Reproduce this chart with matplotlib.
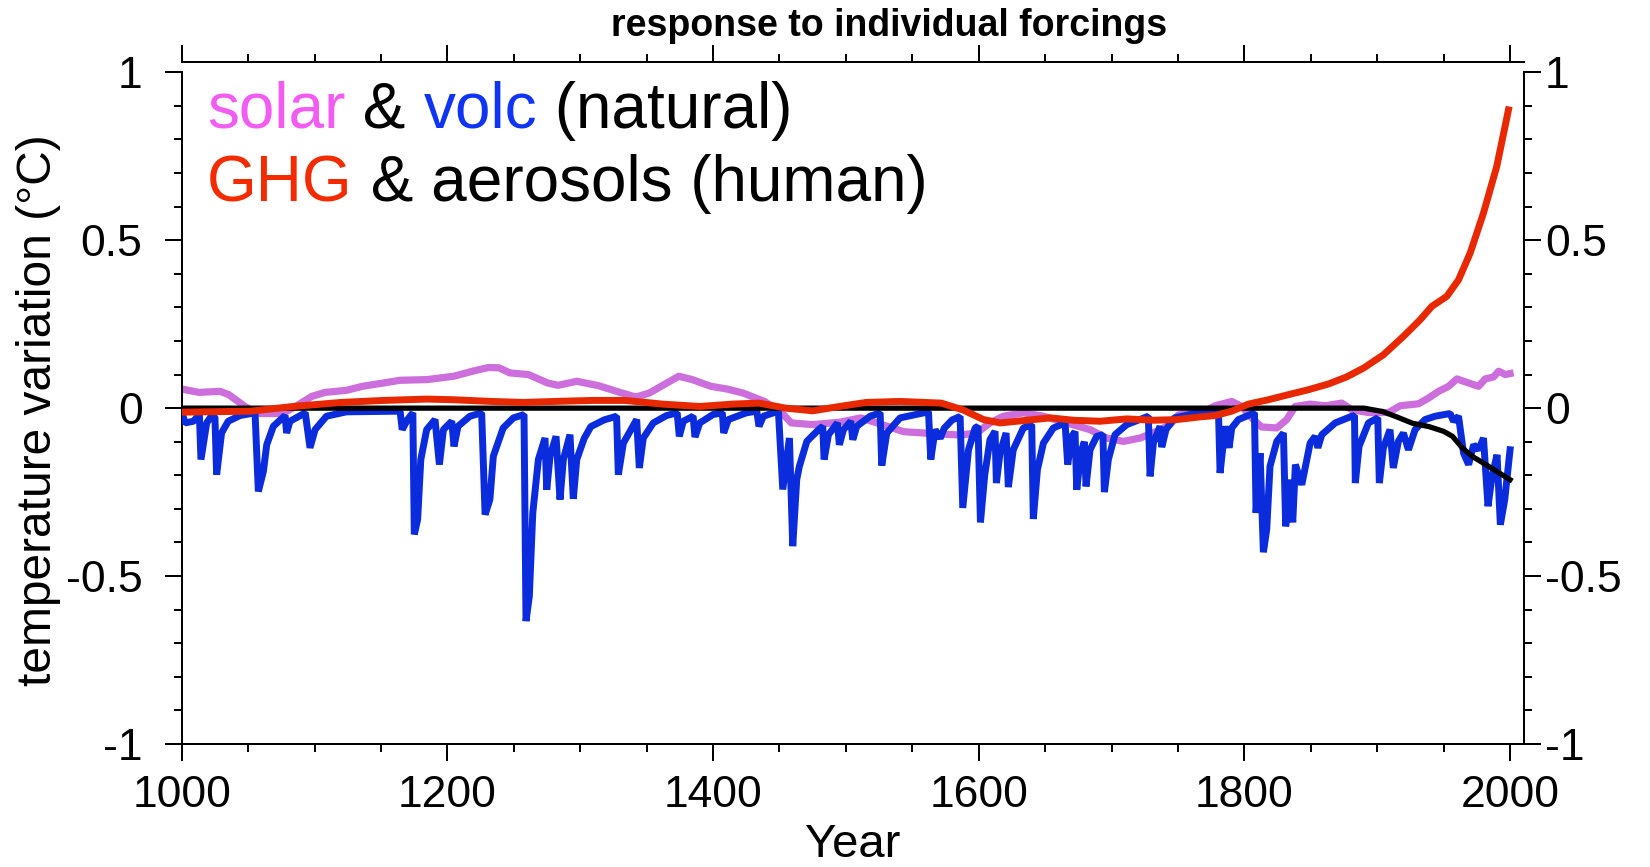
import matplotlib
matplotlib.use('Agg')
import matplotlib.pyplot as plt
from matplotlib.ticker import MultipleLocator

plt.rcParams['font.family'] = ['Liberation Sans', 'DejaVu Sans']
plt.rcParams['axes.unicode_minus'] = False

# ---------------- data ----------------
title = "response to individual forcings"
xlabel = "Year"
ylabel = "temperature variation (°C)"

x_ticks = [1000, 1200, 1400, 1600, 1800, 2000]
x_ticklabels = ["1000", "1200", "1400", "1600", "1800", "2000"]
y_ticks = [-1, -0.5, 0, 0.5, 1]
y_ticklabels = ["-1", "-0.5", "0", "0.5", "1"]

volc_years = [1000, 1002.5, 1008.8, 1013.3, 1014.5, 1018.8, 1022.6, 1025, 1026.3, 1030,
              1035, 1043.9, 1055.2, 1057.7, 1061.5, 1064, 1069, 1077.8, 1079, 1081.5,
              1093, 1096.6, 1100.4, 1109, 1124, 1164.4, 1166, 1170, 1174, 1175.1,
              1177.6, 1180, 1184.4, 1190.7, 1194, 1197, 1203.3, 1205, 1208, 1217,
              1225.8, 1228.4, 1232, 1234.6, 1242, 1249.7, 1257.7, 1259.2, 1261.7, 1264.3,
              1268.5, 1273.5, 1274.8, 1277.3, 1281.8, 1284.8, 1287.3, 1292.3, 1294.8, 1297.4,
              1303, 1308, 1318, 1327.4, 1328.7, 1332.5, 1342.5, 1344.5, 1347.5, 1355,
              1365, 1373, 1374.6, 1377.6, 1385, 1386.4, 1390, 1400, 1407, 1408,
              1411.5, 1425, 1432.9, 1434.6, 1437.9, 1449.2, 1452.5, 1457.5, 1460, 1463,
              1465, 1470.6, 1479.4, 1482.6, 1483.6, 1486.9, 1493.6, 1495.1, 1498.2, 1503.7,
              1505.2, 1508.2, 1518.3, 1525.8, 1527, 1530.8, 1540.8, 1562.2, 1563.9, 1567.2,
              1571, 1574, 1580, 1586, 1588, 1592.3, 1597.3, 1599.5, 1601.3, 1604.5,
              1608.5, 1612.3, 1613.3, 1616, 1620.6, 1622.3, 1626, 1633.6, 1639.9, 1641.1,
              1644.2, 1648.7, 1656.2, 1665, 1667, 1670, 1672.5, 1673.8, 1676.8, 1679.5,
              1680.8, 1683.8, 1688.8, 1693.5, 1694.6, 1697.6, 1702.6, 1711.4, 1727.7, 1729,
              1731.5, 1736.5, 1737.8, 1741, 1747.3, 1764.9, 1780.5, 1781.7, 1785.5, 1788.5,
              1790.5, 1795.5, 1807.6, 1808.8, 1811.8, 1814.3, 1816.8, 1819.3, 1824.4, 1829.4,
              1831.1, 1834.4, 1836.4, 1838.4, 1843.2, 1849.5, 1853.3, 1855.3, 1858.3, 1868.4,
              1880.9, 1882.9, 1883.5, 1886.3, 1893.4, 1900.4, 1901.6, 1904.6, 1909.6, 1912.1,
              1915.9, 1919.7, 1923.5, 1928.5, 1936, 1943.6, 1954.9, 1957.4, 1961.2, 1965,
              1968.8, 1972.6, 1976.3, 1980, 1983.4, 1986.4, 1990.2, 1992.7, 1996, 2000]
volc_vals = [-0.010, -0.044, -0.039, -0.019, -0.153, -0.044, -0.022, -0.026, -0.198, -0.074,
             -0.039, -0.022, -0.014, -0.248, -0.188, -0.109, -0.054, -0.022, -0.074, -0.039,
             -0.014, -0.118, -0.064, -0.024, -0.011, -0.009, -0.064, -0.034, -0.014, -0.376,
             -0.332, -0.153, -0.064, -0.034, -0.168, -0.064, -0.039, -0.114, -0.054, -0.024,
             -0.014, -0.317, -0.272, -0.143, -0.059, -0.029, -0.019, -0.634, -0.560, -0.312,
             -0.153, -0.089, -0.243, -0.143, -0.084, -0.272, -0.153, -0.079, -0.270, -0.153,
             -0.090, -0.055, -0.035, -0.024, -0.198, -0.104, -0.034, -0.178, -0.089, -0.044,
             -0.022, -0.014, -0.084, -0.039, -0.024, -0.086, -0.044, -0.019, -0.014, -0.074,
             -0.034, -0.014, -0.009, -0.054, -0.024, -0.009, -0.242, -0.089, -0.411, -0.213,
             -0.173, -0.099, -0.064, -0.054, -0.153, -0.079, -0.044, -0.109, -0.064, -0.039,
             -0.094, -0.054, -0.024, -0.014, -0.171, -0.074, -0.029, -0.011, -0.153, -0.064,
             -0.090, -0.060, -0.035, -0.025, -0.297, -0.124, -0.059, -0.054, -0.340, -0.200,
             -0.094, -0.069, -0.223, -0.134, -0.074, -0.235, -0.124, -0.059, -0.049, -0.330,
             -0.183, -0.104, -0.059, -0.044, -0.168, -0.084, -0.070, -0.243, -0.134, -0.100,
             -0.233, -0.124, -0.084, -0.079, -0.250, -0.153, -0.079, -0.049, -0.024, -0.203,
             -0.104, -0.054, -0.116, -0.064, -0.029, -0.014, -0.010, -0.193, -0.054, -0.118,
             -0.059, -0.034, -0.014, -0.312, -0.134, -0.429, -0.362, -0.173, -0.099, -0.074,
             -0.352, -0.213, -0.340, -0.168, -0.228, -0.104, -0.084, -0.118, -0.079, -0.044,
             -0.024, -0.022, -0.223, -0.114, -0.044, -0.029, -0.223, -0.119, -0.064, -0.178,
             -0.099, -0.074, -0.124, -0.064, -0.034, -0.024, -0.016, -0.039, -0.024, -0.134,
             -0.168, -0.109, -0.124, -0.089, -0.292, -0.203, -0.139, -0.347, -0.272, -0.124]

solar_years = [1000, 1013, 1029, 1035.5, 1047.6, 1057.6, 1075.8, 1085.8, 1097.9, 1108,
               1124, 1136, 1152, 1164.5, 1184.6, 1204.8, 1220.9, 1231, 1239, 1247,
               1261, 1275.4, 1283.4, 1297.5, 1313.7, 1329.8, 1341.9, 1352, 1374.2, 1384.3,
               1398.4, 1410.5, 1422.6, 1438.7, 1450.8, 1458.9, 1475, 1495.2, 1511.3, 1523.4,
               1543.5, 1565.9, 1586, 1598.5, 1608.5, 1618.6, 1633.6, 1648.7, 1666.3, 1683.8,
               1696.4, 1708.9, 1721.5, 1734, 1744.1, 1750.4, 1761.7, 1771.7, 1778, 1790.5,
               1798, 1806.7, 1813, 1824.4, 1831.9, 1838.2, 1849.5, 1860.8, 1873.3, 1880.9,
               1893.4, 1908.5, 1917.3, 1931.1, 1938.6, 1946.2, 1953.7, 1960, 1968.8, 1976.3,
               1981.3, 1987.6, 1991.4, 1996.4, 2000]
solar_vals = [0.057, 0.047, 0.050, 0.040, 0.005, -0.016, -0.016, 0.005, 0.035, 0.047,
              0.053, 0.065, 0.075, 0.083, 0.085, 0.095, 0.112, 0.121, 0.120, 0.105,
              0.100, 0.075, 0.068, 0.080, 0.067, 0.047, 0.033, 0.045, 0.095, 0.085,
              0.065, 0.057, 0.045, 0.020, -0.010, -0.044, -0.049, -0.042, -0.029, -0.044,
              -0.070, -0.076, -0.080, -0.074, -0.044, -0.024, -0.014, -0.024, -0.044, -0.064,
              -0.089, -0.099, -0.089, -0.069, -0.049, -0.020, -0.014, -0.006, 0.007, 0.020,
              0.005, -0.034, -0.056, -0.059, -0.034, 0.005, 0.012, 0.007, 0.015, -0.005,
              -0.013, -0.013, 0.007, 0.013, 0.030, 0.050, 0.065, 0.087, 0.075, 0.065,
              0.087, 0.093, 0.110, 0.100, 0.103]

ghg_years = [1000, 1052, 1084, 1120, 1152, 1184.6, 1204.8, 1233, 1257, 1281,
             1309.5, 1333.7, 1362, 1390, 1414.5, 1434.6, 1454.8, 1475, 1495.2, 1515.3,
             1540.8, 1571.8, 1588, 1603.6, 1616.1, 1636.2, 1653.8, 1671.3, 1691.4, 1711.4,
             1731.5, 1749.1, 1766.7, 1778, 1790.5, 1803, 1818, 1833, 1848.3, 1863.3,
             1877, 1890, 1904.7, 1919.8, 1932.3, 1941.1, 1952.4, 1961.2, 1970, 1980,
             1990, 1998.8]
ghg_vals = [-0.012, -0.009, 0.005, 0.017, 0.023, 0.027, 0.025, 0.020, 0.017, 0.020,
            0.023, 0.023, 0.012, 0.005, 0.012, 0.015, 0.000, -0.008, 0.005, 0.017,
            0.020, 0.015, -0.005, -0.034, -0.044, -0.036, -0.029, -0.036, -0.039, -0.032,
            -0.036, -0.034, -0.026, -0.022, -0.009, 0.012, 0.025, 0.040, 0.055, 0.072,
            0.093, 0.120, 0.159, 0.214, 0.263, 0.303, 0.333, 0.382, 0.462, 0.581,
            0.720, 0.888]

aer_years = [1000, 1890, 1904, 1914, 1926.6, 1939, 1950, 1956.7, 1964.2, 1971.7,
             1981.8, 1991.8, 2000]
aer_vals = [0.0, 0.0, -0.010, -0.025, -0.045, -0.055, -0.069, -0.084, -0.119, -0.144,
            -0.168, -0.193, -0.213]

legend_line1 = [("solar", "#F25CF2"), (" & ", "black"), ("volc", "#1034F4"), (" (natural)", "black")]
legend_line2 = [("GHG", "#F42A00"), (" & aerosols (human)", "black")]

# ---------------- figure ----------------
W, H = 1650, 867
fig = plt.figure(figsize=(W / 100, H / 100), dpi=100)
L, R, B, T = 181.7, 1524.0, 744.0, 72.3
ax = fig.add_axes([L / W, 1 - B / H, (R - L) / W, (B - T) / H])
ax.set_xlim(1000, 2010.5)
ax.set_ylim(-1, 1)

lw_sp = 1.44
for s in ax.spines.values():
    s.set_linewidth(lw_sp)
ax.spines['top'].set_position(('outward', 7.2))
ax.spines['right'].set_visible(False)

ax.plot(solar_years, solar_vals, color="#CC6EDC", lw=5.2, zorder=2, solid_joinstyle='round')
ax.plot(volc_years, volc_vals, color="#0A2CDC", lw=5.0, zorder=3, solid_joinstyle='bevel')
ax.plot(aer_years, aer_vals, color="black", lw=3.8, zorder=4)
ax.plot(ghg_years, ghg_vals, color="#E82800", lw=5.0, zorder=5)

ax.set_xticks(x_ticks)
ax.set_xticklabels(x_ticklabels)
ax.xaxis.set_minor_locator(MultipleLocator(50))
ax.set_yticks(y_ticks)
ax.set_yticklabels(y_ticklabels)
ax.yaxis.set_minor_locator(MultipleLocator(0.1))

ax.tick_params(axis='x', which='both', direction='out', top=True, bottom=True,
               labeltop=False, width=lw_sp, labelsize=32, pad=10)
ax.tick_params(axis='y', which='both', direction='out', left=True, right=False,
               width=lw_sp, labelsize=32, pad=16)
ax.tick_params(which='major', length=12.2)
ax.tick_params(which='minor', length=6.1)

ax2 = ax.twinx()
ax2.set_ylim(-1, 1)
for k, s in ax2.spines.items():
    s.set_visible(k == 'right')
    s.set_linewidth(lw_sp)
ax2.set_yticks(y_ticks)
ax2.set_yticklabels(y_ticklabels)
ax2.yaxis.set_minor_locator(MultipleLocator(0.1))
ax2.tick_params(axis='y', which='both', direction='out', width=lw_sp, labelsize=32, pad=3)
ax2.tick_params(which='major', length=12.2)
ax2.tick_params(which='minor', length=6.1)

# texts
fig.text(889 / W, 1 - 36 / H, title, ha='center', va='baseline', fontsize=27, fontweight='bold')
fig.text(853 / W, 1 - 857 / H, xlabel, ha='center', va='baseline', fontsize=34)
fig.text(39 / W, 1 - 410 / H, ylabel, ha='center', va='center', rotation=90, fontsize=34.5)

r = fig.canvas.get_renderer()


def twidth(s, size):
    t1 = fig.text(0, 0, s + '|', fontsize=size)
    w1 = t1.get_window_extent(r).width
    t1.remove()
    t2 = fig.text(0, 0, '|', fontsize=size)
    w2 = t2.get_window_extent(r).width
    t2.remove()
    return w1 - w2


def colored_line(parts, x0, base, size):
    x = x0
    for s, c in parts:
        fig.text(x / W, 1 - base / H, s, color=c, fontsize=size, ha='left', va='baseline')
        x += twidth(s, size)


colored_line(legend_line1, 207, 128, 46)
colored_line(legend_line2, 207, 201, 46)

fig.savefig("out.png", dpi=100)
